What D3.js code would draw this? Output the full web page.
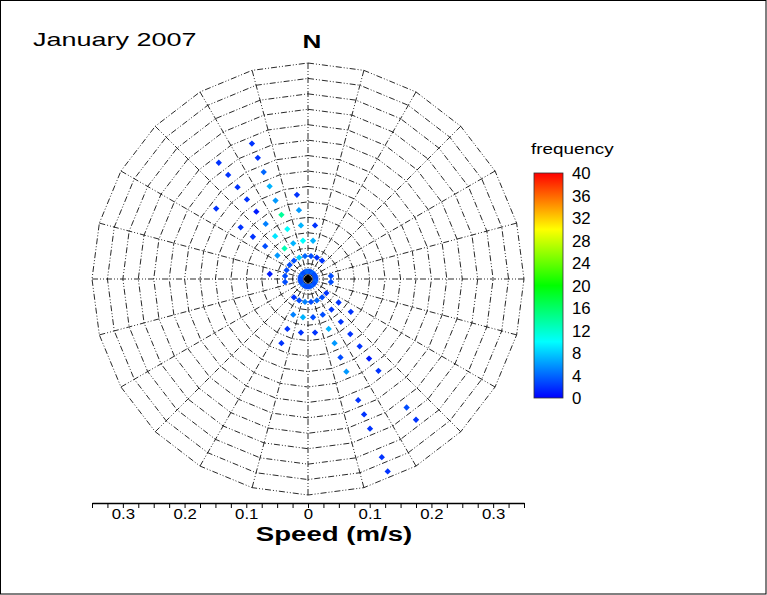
<!DOCTYPE html>
<html>
<head>
<meta charset="utf-8">
<script src="https://cdn.jsdelivr.net/npm/d3@7"></script>
<style>
html,body{margin:0;padding:0;background:#fff;}
svg{display:block;}
text{font-family:"Liberation Sans",Arial,sans-serif;}
</style>
</head>
<body>
<script>
// ---------- data ----------
const title = "January 2007";
const northLabel = "N";
const axisTitle = "Speed (m/s)";
const legendTitle = "frequency";
const legendTicks = [0, 4, 8, 12, 16, 20, 24, 28, 32, 36, 40];
const speedTicks = [-0.35,-0.325,-0.3,-0.275,-0.25,-0.225,-0.2,-0.175,-0.15,-0.125,-0.1,-0.075,-0.05,-0.025,0,
                    0.025,0.05,0.075,0.1,0.125,0.15,0.175,0.2,0.225,0.25,0.275,0.3,0.325,0.35];
const speedLabels = {"-0.3":"0.3","-0.2":"0.2","-0.1":"0.1","0":"0","0.1":"0.1","0.2":"0.2","0.3":"0.3"};
const gridRings = [0.025,0.05,0.075,0.1,0.125,0.15,0.175,0.2,0.225,0.25,0.275,0.3,0.325,0.35];
const gridSpokes = [0,15,30,45,60,75,90,105,120,135,150,165,180,195,210,225,240,255,270,285,300,315,330,345];

// bins (direction in degrees clockwise from north, speed bin centre in m/s, frequency)
const dirDeg = [
  7.5,22.5,37.5,52.5,67.5,82.5,97.5,112.5,127.5,142.5,157.5,172.5,187.5,202.5,217.5,232.5,247.5,262.5,277.5,292.5,307.5,322.5,337.5,352.5,
  7.5,22.5,37.5,82.5,97.5,127.5,142.5,157.5,172.5,187.5,202.5,217.5,262.5,277.5,292.5,307.5,322.5,337.5,352.5,
  7.5,127.5,142.5,157.5,172.5,187.5,202.5,277.5,307.5,322.5,337.5,352.5,
  7.5,127.5,142.5,157.5,172.5,187.5,202.5,307.5,322.5,337.5,352.5,
  142.5,157.5,202.5,307.5,322.5,337.5,352.5,
  142.5,157.5,307.5,322.5,337.5,352.5,
  142.5,157.5,322.5,337.5,
  142.5,307.5,322.5,337.5,
  157.5,322.5,337.5,
  157.5,322.5,337.5,
  142.5,157.5,
  142.5,
  157.5,
  157.5
];
const speedMs = [
  0.0125,0.0125,0.0125,0.0125,0.0125,0.0125,0.0125,0.0125,0.0125,0.0125,0.0125,0.0125,0.0125,0.0125,0.0125,0.0125,0.0125,0.0125,0.0125,0.0125,0.0125,0.0125,0.0125,0.0125,
  0.0375,0.0375,0.0375,0.0375,0.0375,0.0375,0.0375,0.0375,0.0375,0.0375,0.0375,0.0375,0.0375,0.0375,0.0375,0.0375,0.0375,0.0375,0.0375,
  0.0625,0.0625,0.0625,0.0625,0.0625,0.0625,0.0625,0.0625,0.0625,0.0625,0.0625,0.0625,
  0.0875,0.0875,0.0875,0.0875,0.0875,0.0875,0.0875,0.0875,0.0875,0.0875,0.0875,
  0.1125,0.1125,0.1125,0.1125,0.1125,0.1125,0.1125,
  0.1375,0.1375,0.1375,0.1375,0.1375,0.1375,
  0.1625,0.1625,0.1625,0.1625,
  0.1875,0.1875,0.1875,0.1875,
  0.2125,0.2125,0.2125,
  0.2375,0.2375,0.2375,
  0.2625,0.2625,
  0.2875,
  0.3125,
  0.3375
];
const frequency = [
  3,3,4,3,3,3,3,4,3,3,4,3,3,3,3,4,3,3,3,3,4,3,3,4,
  3,2,2,3,3,2,3,4,3,5,3,2,3,3,3,3,3,8,4,
  7,2,2,3,3,7,5,1,6,13,7,10,
  2,2,2,7,2,2,2,3,9,10,7,
  2,6,2,2,5,14,6,
  2,3,2,1,6,2,
  1,6,2,7,
  2,2,2,4,
  2,2,2,
  2,2,2,
  3,2,
  2,
  2,
  2
];

// ---------- layout ----------
const W = 767, H = 595;
const cx = 308, cy = 279, R = 216;
const FONT = '"Liberation Sans",Arial,sans-serif';

const svg = d3.select("body").append("svg").attr("width", W).attr("height", H);
svg.append("rect").attr("x",0.5).attr("y",0.5).attr("width",W-1.5).attr("height",H-1.5)
   .attr("fill","#fff").attr("stroke","#000").attr("stroke-width",1);

const r = d3.scaleLinear().domain([0, 0.35]).range([0, R]);
const color = d3.scaleLinear().domain([0,10,20,30,40])
  .range(["#0000ff","#00ffff","#00ff00","#ffff00","#ff0000"]).clamp(true);

const g = svg.append("g").attr("transform", `translate(${cx},${cy})`);
const toRad = d => d * Math.PI / 180;

// grid rings (24-gons) and spokes
const ringLine = d3.lineRadial().curve(d3.curveLinearClosed);
const gridStyle = sel => sel.attr("fill","none").attr("stroke","#111").attr("stroke-width",0.9)
  .attr("stroke-dasharray","6,2,1,2,1,2");
g.append("g").selectAll("path").data(gridRings).join("path")
  .attr("d", v => ringLine(gridSpokes.map(a => [toRad(a), r(v)])))
  .call(gridStyle);
g.append("g").selectAll("line").data(gridSpokes).join("line")
  .attr("x1",0).attr("y1",0)
  .attr("x2", a => d3.pointRadial(toRad(a), R)[0])
  .attr("y2", a => d3.pointRadial(toRad(a), R)[1])
  .call(gridStyle);

// points
const pts = d3.range(dirDeg.length).map(i => ({dir: dirDeg[i], spd: speedMs[i], f: frequency[i]}));
const diamond = d3.symbol().type(d3.symbolSquare).size(20);
g.append("g").selectAll("path").data(pts).join("path")
  .attr("d", diamond)
  .attr("transform", d => {
    const p = d3.pointRadial(toRad(d.dir), r(d.spd));
    return `translate(${p[0]},${p[1]}) rotate(45)`;
  })
  .attr("fill", d => color(d.f));

// centre hub
g.append("path").attr("d", d3.symbol().type(d3.symbolSquare).size(44))
  .attr("transform","rotate(45)").attr("fill","#000");

// ---------- texts ----------
svg.append("text").attr("transform","translate(33,46) scale(1.42,1)")
  .attr("font-size",19).attr("fill","#000").text(title);
svg.append("text").attr("transform","translate(312,48) scale(1.45,1)")
  .attr("text-anchor","middle").attr("font-size",18).attr("font-weight","bold").text(northLabel);

// ---------- speed axis ----------
const x = d3.scaleLinear().domain([-0.35, 0.35]).range([cx - R, cx + R]);
const axis = d3.axisBottom(x).tickValues(speedTicks).tickSize(5).tickSizeOuter(0).tickPadding(0)
  .tickFormat(v => { const k = String(Math.round(v*10)/10); return (Math.abs(v*10 - Math.round(v*10)) < 1e-6) ? (speedLabels[k] || "") : ""; });
const ax = svg.append("g").attr("transform","translate(0,503)").call(axis)
  .attr("font-size", null).attr("font-family", null);
ax.select(".domain").attr("stroke","#000").attr("stroke-width",1.6);
ax.selectAll(".tick line").attr("stroke","#000").attr("stroke-width",1);
ax.selectAll(".tick text")
  .style("font-family",FONT).style("font-size","15px").attr("fill","#000")
  .attr("dy","0.72em")
  .attr("transform","scale(1.12,1)");
svg.append("text").attr("transform","translate(334,541) scale(1.38,1)")
  .attr("text-anchor","middle").attr("font-size",20).attr("font-weight","bold").text(axisTitle);

// ---------- legend ----------
const lx = 534, lw = 29, ly0 = 173, ly1 = 398;
const ly = d3.scaleLinear().domain([0,40]).range([ly1, ly0]);
const grad = svg.append("defs").append("linearGradient").attr("id","cbar")
  .attr("x1",0).attr("y1",1).attr("x2",0).attr("y2",0);
[0,10,20,30,40].forEach(v => grad.append("stop").attr("offset", v/40).attr("stop-color", color(v)));
svg.append("rect").attr("x",lx).attr("y",ly(40)).attr("width",lw).attr("height",ly(0)-ly(40))
  .attr("fill","url(#cbar)").attr("stroke","#333").attr("stroke-width",0.8);
svg.append("g").selectAll("text").data(legendTicks).join("text")
  .attr("transform", v => `translate(572,${ly(v)+6}) scale(1.05,1)`)
  .attr("font-size",16).attr("fill","#000").text(v => v);
svg.append("text").attr("transform","translate(531,154) scale(1.3,1)")
  .attr("font-size",14.5).attr("fill","#000").text(legendTitle);
</script>
</body>
</html>
